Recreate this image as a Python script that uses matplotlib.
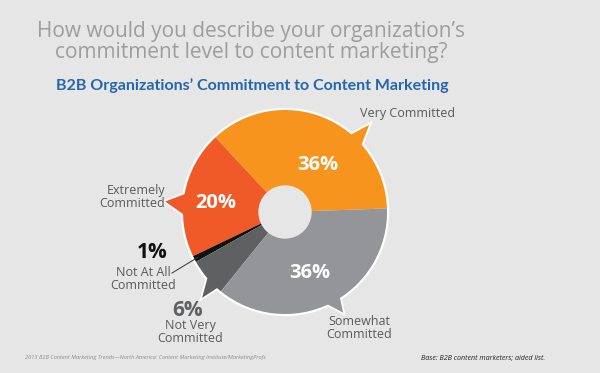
import numpy as np
import matplotlib
matplotlib.use("Agg")
import matplotlib.pyplot as plt
from matplotlib.patches import Polygon, Circle

# Datos del gráfico
categorias = ["Very Committed", "Extremely Committed", "Not At All Committed",
              "Not Very Committed", "Somewhat Committed"]
valores = [36, 20, 1, 6, 36]
etiquetas_pct = ["36%", "20%", "1%", "6%", "36%"]
colores = ["#f7941d", "#f05a28", "#111111", "#5f6062", "#939598"]

titulo = "How would you describe your organization’s\ncommitment level to content marketing?"
subtitulo = "B2B Organizations’ Commitment to Content Marketing"
fuente = "2013 B2B Content Marketing Trends—North America: Content Marketing Institute/MarketingProfs"
base = "Base: B2B content marketers; aided list."

fondo = "#e6e6e6"
W, H = 600, 373
cx, cy = 285, H - 212   # centro del anillo (pixeles)
R, r_hueco = 102, 26

fig = plt.figure(figsize=(6, 3.73), dpi=100)
fig.patch.set_facecolor(fondo)
ax = fig.add_axes([0, 0, 1, 1])

def py(y):
    # de coordenadas de imagen a coordenadas del eje
    return H - y

def punto(ang, rad):
    a = np.deg2rad(ang)
    return (cx + rad * R * np.cos(a), cy + rad * R * np.sin(a))

# borde blanco exterior
ax.add_patch(Circle((cx, cy), R + 1.5, color="white", zorder=1))

wedges, _ = ax.pie(valores, colors=colores, startangle=2, counterclock=True,
                   center=(cx, cy), radius=R, frame=True,
                   wedgeprops=dict(width=R - r_hueco, linewidth=0))
for w in wedges:
    w.set_zorder(3)
# hueco central con el color de fondo
ax.add_patch(Circle((cx, cy), r_hueco, color=fondo, zorder=5))

ax.set_xlim(0, W)
ax.set_ylim(0, H)
ax.set_aspect("equal")
ax.axis("off")

# colas tipo "bocadillo" (angulo base 1, angulo base 2, angulo punta, radio punta)
colas = {0: (52, 38, 46, 1.19), 1: (166, 186, 175, 1.18),
         3: (216, 230, 226, 1.17), 4: (290, 305, 300, 1.14)}

for i, (a1, a2, at, rt) in colas.items():
    pts = [punto(a1, 0.9), punto(at, rt), punto(a2, 0.9)]
    ax.add_patch(Polygon(pts, closed=True, facecolor="white", edgecolor="white",
                         linewidth=2.5, joinstyle="miter", zorder=2))
    ax.add_patch(Polygon(pts, closed=True, facecolor=colores[i], edgecolor="none",
                         zorder=4))

# etiquetas de porcentaje dentro del anillo
fam = ["Open Sans", "DejaVu Sans"]
for (x, y), txt in zip([(318, 165), (216, 203), (310, 273)],
                       [etiquetas_pct[0], etiquetas_pct[1], etiquetas_pct[4]]):
    ax.text(x, py(y), txt, color="white", fontsize=14.5, fontweight="bold",
            ha="center", va="center", family=fam, zorder=6)

# etiquetas exteriores
gris_txt = "#58595b"
fs = 9
ax.text(360, py(114), categorias[0], color=gris_txt, fontsize=fs, ha="left",
        va="center", family=fam)
ax.text(165, py(197), "Extremely\nCommitted", color=gris_txt, fontsize=fs, ha="right",
        va="center", family=fam, linespacing=1.0)
ax.text(152, py(253), etiquetas_pct[2], color="#111111", fontsize=15, fontweight="bold",
        ha="center", va="center", family=fam)
ax.text(143, py(279), "Not At All\nCommitted", color=gris_txt, fontsize=fs,
        ha="center", va="center", family=fam, linespacing=1.0)
# línea guía hacia la porción del 1%
ang_negro = (wedges[2].theta1 + wedges[2].theta2) / 2
fin = punto(ang_negro, 0.96)
ax.plot([172, fin[0]], [py(273), fin[1]], color="#333333", linewidth=0.7, zorder=6)
ax.text(188, py(310), etiquetas_pct[3], color="#5f6062", fontsize=15, fontweight="bold",
        ha="center", va="center", family=fam)
ax.text(190, py(332), "Not Very\nCommitted", color=gris_txt, fontsize=fs,
        ha="center", va="center", family=fam, linespacing=1.0)
ax.text(359, py(328), "Somewhat\nCommitted", color=gris_txt, fontsize=fs,
        ha="center", va="center", family=fam, linespacing=1.0)

# títulos
ax.text(251, py(42), titulo, color="#9d9d9d", fontsize=15, ha="center", va="center",
        family=fam, linespacing=1.0)
ax.text(252, py(86), subtitulo, color="#2466ad", fontsize=11.5, fontweight="bold",
        ha="center", va="center", family=["Lato", "DejaVu Sans"])

# pie de página
ax.text(25, py(358), fuente, color="#8a8a8a", fontsize=4.1, style="italic",
        ha="left", va="center", family=fam)
ax.text(545, py(358), base, color="#222222", fontsize=5.1, style="italic",
        ha="right", va="center", family=fam)

fig.savefig("out.png", dpi=100, facecolor=fondo)
